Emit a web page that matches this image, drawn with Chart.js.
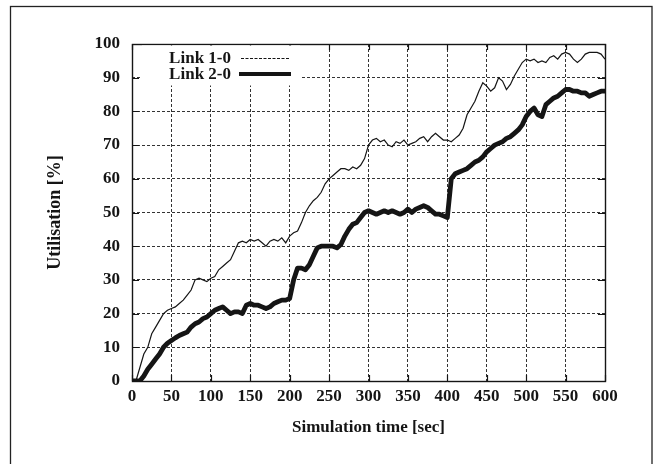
<!DOCTYPE html>
<html><head><meta charset="utf-8">
<script src="https://cdn.jsdelivr.net/npm/chart.js@4"></script>
<style>html,body{margin:0;padding:0;background:#fff;}#wrap{width:658px;height:464px;}</style>
</head><body><div id="wrap"><canvas id="c" width="658" height="464"></canvas></div>
<script>
const timeSec = [0,5,10,15,20,25,30,35,40,45,50,55,60,65,70,75,80,85,90,95,
100,105,110,115,120,125,130,135,140,145,150,155,160,165,170,175,180,185,190,195,
200,205,210,215,220,225,230,235,240,245,250,255,260,265,270,275,280,285,290,295,
300,305,310,315,320,325,330,335,340,345,350,355,360,365,370,375,380,385,390,395,
400,405,410,415,420,425,430,435,440,445,450,455,460,465,470,475,480,485,490,495,
500,505,510,515,520,525,530,535,540,545,550,555,560,565,570,575,580,585,590,595,600];
const link10 = [0,0,4,8,10,14,16,18,20,21,21.5,22,23,24,25.5,27,30,30.5,30,29.5,
30.5,31,33,34,35,36,38.5,41,41.5,41,42,41.5,42,41,40,41.5,42,41.5,42.5,41,
43,44,44.5,47,50,52,53.5,54.5,56,58.5,60,61,62,63,63,62.5,63.5,63,64,66,
70,71.5,72,71,71.5,70,69.5,71,70.5,71.5,70,70.5,71,72,72.5,71,72.5,73.5,72.5,71.5,
71.5,71,72,73,75,79,81,83,86,88.5,87.5,86,87,90,89,86.5,88,90.5,92.5,94.5,
95.5,95,95.5,94.5,95,94.5,96,96.5,95.5,97,97.5,97,95.5,94.5,95.5,97,97.5,97.5,97.5,97,95.5];
const link20 = [0,0,0,1.5,3.5,5,6.5,8,10,11.2,12,12.8,13.5,14,14.5,16,17,17.5,18.5,19,
20,21,21.5,22,21,20,20.5,20.5,20,22.5,23,22.5,22.5,22,21.5,22,23,23.5,24,24,
24.5,30,33.5,33.5,33,34.5,37,39.5,40,40,40,40,39.5,40.5,43,45,46.5,47,48.5,50,
50.5,50,49.5,50,50.5,50,50.5,50,49.5,50,51,50,51,51.5,52,51.5,50.5,49.5,49.5,49,
48.5,60,61.5,62,62.5,63,64,65,65.5,66.5,68,69,70,70.5,71,72,72.5,73.5,74.5,76,
78.5,80,81,79,78.5,82,83,84,84.5,85.5,86.5,86.5,86,86,85.5,85.5,84.5,85,85.5,86,86];
const seriesLabels = ['Link 1-0','Link 2-0'];
const xTickValues = [0,50,100,150,200,250,300,350,400,450,500,550,600];
const yTickValues = [0,10,20,30,40,50,60,70,80,90,100];
const xTitle = 'Simulation time [sec]';
const yTitle = 'Utilisation [%]';

const SERIF = "'Liberation Serif','Times New Roman',serif";
const INK = '#151515';

const framePlugin = {
  id: 'frame',
  beforeDraw(chart) {
    const ctx = chart.ctx;
    ctx.save();
    ctx.fillStyle = '#fff';
    ctx.fillRect(0, 0, chart.width, chart.height);
    ctx.strokeStyle = '#222';
    ctx.lineWidth = 1.3;
    ctx.strokeRect(10.5, 6.5, 641.5, 480);
    ctx.restore();
  },
  afterDatasetsDraw(chart) {
    const ctx = chart.ctx;
    const a = chart.chartArea;
    const xs = chart.scales.x, ys = chart.scales.y;
    ctx.save();
    ctx.strokeStyle = INK;
    ctx.lineWidth = 1.2;
    ctx.beginPath();
    xTickValues.forEach(v => {
      const px = Math.round(xs.getPixelForValue(v)) + 0.5;
      ctx.moveTo(px, a.bottom); ctx.lineTo(px, a.bottom - 6);
      ctx.moveTo(px, a.top); ctx.lineTo(px, a.top + 6);
    });
    yTickValues.forEach(v => {
      const py = Math.round(ys.getPixelForValue(v)) + 0.5;
      ctx.moveTo(a.left, py); ctx.lineTo(a.left + 7, py);
      ctx.moveTo(a.right, py); ctx.lineTo(a.right - 7, py);
    });
    ctx.stroke();
    ctx.lineWidth = 1.4;
    ctx.strokeRect(Math.round(a.left) + 0.5, Math.round(a.top) + 0.5,
                   Math.round(a.right - a.left), Math.round(a.bottom - a.top));
    ctx.restore();
  },
  afterDraw(chart) {
    const ctx = chart.ctx;
    const a = chart.chartArea;
    ctx.save();
    ctx.fillStyle = '#fff';
    ctx.fillRect(a.left + 10, a.top + 1.5, 158, 40);
    ctx.font = "bold 17px " + SERIF;
    ctx.fillStyle = INK;
    ctx.textAlign = 'right';
    ctx.textBaseline = 'middle';
    const tx = a.left + 99;
    const y1 = a.top + 15, y2 = a.top + 31;
    ctx.fillText(chart.data.datasets[0].label, tx, y1);
    ctx.fillText(chart.data.datasets[1].label, tx, y2);
    ctx.strokeStyle = INK;
    ctx.lineWidth = 1;
    ctx.setLineDash([3, 1.5]);
    ctx.beginPath(); ctx.moveTo(a.left + 109, y1 - 0.5); ctx.lineTo(a.left + 158, y1 - 0.5); ctx.stroke();
    ctx.setLineDash([]);
    ctx.lineWidth = 4;
    ctx.beginPath(); ctx.moveTo(a.left + 107, y2 - 1); ctx.lineTo(a.left + 159, y2 - 1); ctx.stroke();
    ctx.restore();
  }
};

new Chart(document.getElementById('c'), {
  type: 'line',
  data: {
    datasets: [
      { label: seriesLabels[0], data: timeSec.map((t, i) => ({x: t, y: link10[i]})),
        borderColor: INK, borderWidth: 1.2, pointRadius: 0, tension: 0, fill: false },
      { label: seriesLabels[1], data: timeSec.map((t, i) => ({x: t, y: link20[i]})),
        borderColor: INK, borderWidth: 4.8, pointRadius: 0, tension: 0, fill: false,
        borderJoinStyle: 'round', borderCapStyle: 'round' }
    ]
  },
  options: {
    responsive: false,
    devicePixelRatio: 1,
    animation: false,
    layout: { padding: { left: 0, top: 44, right: 53, bottom: 0 } },
    plugins: { legend: { display: false }, tooltip: { enabled: false } },
    scales: {
      x: {
        type: 'linear', min: 0, max: 600,
        afterBuildTicks: s => { s.ticks = xTickValues.map(v => ({value: v})); },
        afterFit: s => { s.height = 83; },
        ticks: { font: { family: SERIF, size: 17, weight: 'bold' }, color: INK, padding: 5, maxRotation: 0 },
        grid: { color: '#333', lineWidth: 1, drawTicks: false },
        border: { display: false, dash: [3, 2] },
        title: { display: true, text: xTitle, color: INK,
                 font: { family: SERIF, size: 17, weight: 'bold' }, padding: { top: 0, bottom: 26 } }
      },
      y: {
        type: 'linear', min: 0, max: 100,
        afterBuildTicks: s => { s.ticks = yTickValues.map(v => ({value: v})); },
        afterFit: s => { s.width = 132; },
        ticks: { font: { family: SERIF, size: 17, weight: 'bold' }, color: INK, padding: 12 },
        grid: { color: '#333', lineWidth: 1, drawTicks: false },
        border: { display: false, dash: [3, 2] },
        title: { display: true, text: yTitle, color: INK,
                 font: { family: SERIF, size: 18, weight: 'bold' }, padding: { top: 45, bottom: 0 } }
      }
    }
  },
  plugins: [framePlugin]
});
</script>
</body></html>
